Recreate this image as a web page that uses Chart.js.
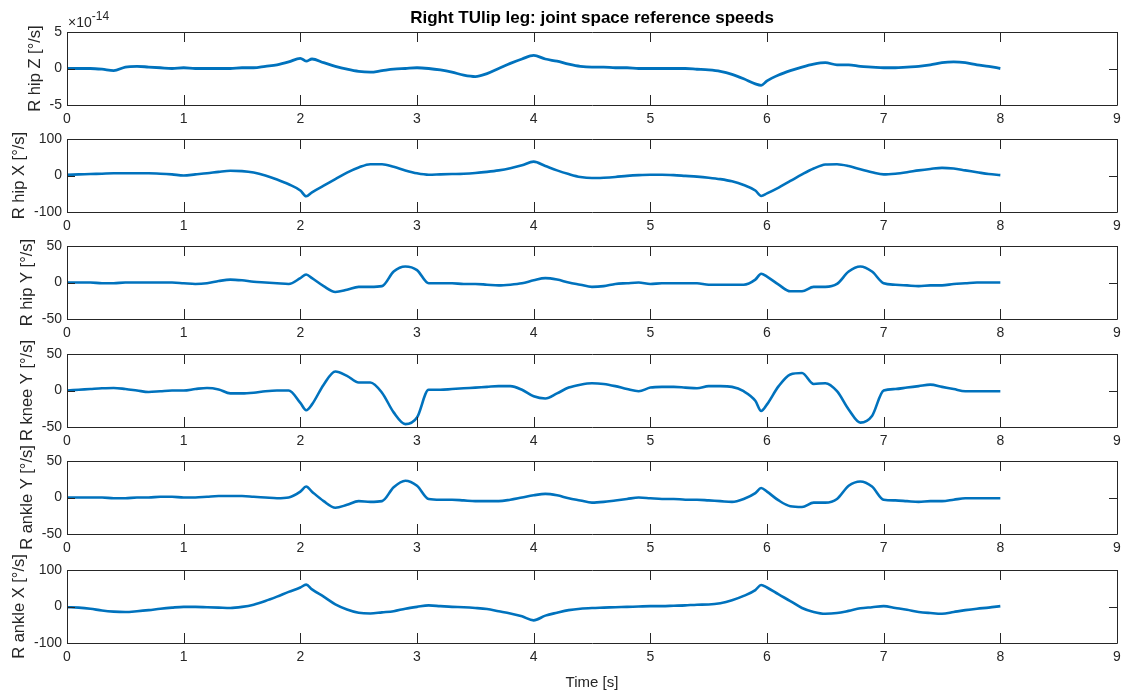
<!DOCTYPE html>
<html>
<head>
<meta charset="utf-8">
<script src="https://cdn.jsdelivr.net/npm/chart.js@4.4.1/dist/chart.umd.min.js"></script>
<style>
  body { margin: 0; background: #fff; }
  #wrap { position: relative; width: 1139px; height: 695px; }
  #wrap canvas { position: absolute; left: 0; }
</style>
</head>
<body>
<div id="wrap"></div>
<script>
// time samples [s]
var time = [0, 0.1, 0.2, 0.3, 0.4, 0.5, 0.6, 0.7, 0.8, 0.9, 1.0, 1.1, 1.2, 1.3, 1.4, 1.5, 1.6, 1.7, 1.8, 1.9, 2.0,
  2.05,
  2.1, 2.2, 2.3, 2.4, 2.5, 2.6, 2.7, 2.8, 2.9, 3.0, 3.1, 3.2, 3.3, 3.4, 3.5, 3.6, 3.7, 3.8, 3.9, 4.0,
  4.1, 4.2, 4.3, 4.4, 4.5, 4.6, 4.7, 4.8, 4.9, 5.0, 5.1, 5.2, 5.3, 5.4, 5.5, 5.6, 5.7, 5.8, 5.9,
  5.95,
  6.0, 6.1, 6.2, 6.3, 6.4, 6.5, 6.6, 6.7, 6.8, 6.9, 7.0, 7.1, 7.2, 7.3, 7.4, 7.5, 7.6, 7.7, 7.8, 7.9, 8.0];

// hip Z is in units of 1e-14 deg/s
var hipZ = [0, 0, 0, -0.1, -0.3, 0.2, 0.3, 0.2, 0.1, 0, 0.1, 0, 0, 0, 0, 0.1, 0.1, 0.3, 0.5, 0.9, 1.4,
  1.0,
  1.3, 0.8, 0.3, -0.1, -0.4, -0.5, -0.3, -0.1, 0, 0.1, 0, -0.2, -0.5, -0.9, -1.1, -0.7, 0, 0.7, 1.3, 1.8,
  1.3, 1.0, 0.6, 0.3, 0.2, 0.2, 0.1, 0.1, 0, 0, 0, 0, 0, -0.1, -0.2, -0.4, -0.8, -1.4, -2.1,
  -2.3,
  -1.7, -0.9, -0.3, 0.2, 0.6, 0.8, 0.5, 0.5, 0.3, 0.2, 0.1, 0.1, 0.2, 0.3, 0.5, 0.8, 0.9, 0.8, 0.5, 0.3, 0];

var hipX = [2, 3, 4, 5, 6, 6, 6, 6, 5, 3, 0, 3, 6, 10, 13, 12, 8, 0, -11, -24, -41,
  -57,
  -46, -28, -10, 8, 22, 31, 31, 24, 14, 6, 2, 3, 4, 5, 7, 10, 14, 20, 28, 38,
  26, 14, 4, -4, -7, -6, -4, -1, 1, 2, 2, 1, -1, -3, -6, -10, -16, -26, -41,
  -56,
  -49, -33, -15, 3, 19, 30, 31, 26, 17, 9, 3, 5, 9, 14, 18, 21, 19, 14, 9, 4, 1];

var hipY = [0, 0, 0, -1, -1, 0, 0, 0, 0, 0, -1, -2, -1, 2, 4, 3, 1, 0, -1, -2, 6,
  11,
  6, -5, -13, -10, -6, -6, -5, 15, 22, 17, -1, -1, -1, -2, -2, -3, -4, -3, -1, 3,
  6, 4, 0, -3, -6, -5, -2, -1, 0, -2, -1, -1, -1, -1, -3, -3, -3, -3, 4,
  12,
  8, -3, -12, -12, -6, -6, -2, 15, 22, 15, -1, -3, -4, -5, -4, -4, -2, -1, 0, 0, 0];

var kneeY = [0, 1, 2, 3, 3.5, 2, 0, -2, -1, 0, 0, 2, 3.5, 1.5, -4, -4, -3, -1, 0, 0, -17,
  -27,
  -19, 8, 26, 20, 11, 11, -3, -30, -46, -37, 1, 1, 2, 3, 4, 5, 6, 6, 1, -8,
  -11, -4, 4, 8, 10, 9, 6, 2, -1, 4, 5, 5, 4, 3, 6, 6, 5, -1, -14,
  -28,
  -19, 6, 22, 24, 9, 10, -1, -26, -44, -35, 0, 2, 4, 6, 8, 5, 2, -1, -1, -1, -1];

var ankleY = [0, 0, 0, 0, -1, -1, 0, 0, 1, 1, 0, 0, 1, 2, 2, 2, 1, 0, -1, 0, 8,
  15,
  8, -5, -14, -10, -5, -6, -5, 14, 23, 16, -2, -3, -3, -4, -5, -5, -5, -3, 0, 3,
  5, 3, -1, -4, -7, -6, -4, -2, 0, -1, -2, -2, -3, -3, -4, -5, -6, -2, 6,
  13,
  8, -4, -12, -13, -7, -7, -2, 16, 22, 15, -3, -4, -5, -6, -5, -5, -3, -1, -1, -1, -1];

var ankleX = [-2, -3, -6, -11, -14, -15, -13, -10, -6, -3, -1, -1, -2, -3, -4, -1, 5, 15, 27, 40, 52,
  60,
  47, 27, 6, -8, -17, -19, -16, -13, -6, -1, 3, 1, -1, -2, -4, -7, -13, -19, -27, -38,
  -25, -17, -10, -6, -4, -3, -2, -1, 0, 1, 1, 2, 3, 5, 5.5, 9, 17, 29, 45,
  59,
  52, 33, 15, -4, -15, -20, -18, -12, -5, -2, 1, -4, -9, -15, -18, -20, -15, -10, -6, -3, 1];

var yLabels = ['R hip Z [°/s]', 'R hip X [°/s]', 'R hip Y [°/s]', 'R knee Y [°/s]', 'R ankle Y [°/s]', 'R ankle X [°/s]'];
var yLimits = [5, 100, 50, 50, 50, 100];
var series = [hipZ, hipX, hipY, kneeY, ankleY, ankleX];
var xTicks = [0, 1, 2, 3, 4, 5, 6, 7, 8, 9];

var axisColor = '#262626';
var lineColor = '#0072BD';
var fontFamily = '"Liberation Sans", Arial, sans-serif';
var plotTops = [32, 139, 246, 354, 461, 570];
var plotH = 73;
// ylabel centre sits left of the widest tick label
var labelCentre = [36, 20, 28, 28, 28, 20];

// MATLAB-like box with inward tick marks on all four sides
var boxAxes = {
  id: 'boxAxes',
  afterDatasetsDraw: function (chart) {
    var ctx = chart.ctx, a = chart.chartArea;
    var xs = chart.scales.x, ys = chart.scales.y;
    ctx.save();
    ctx.strokeStyle = axisColor;
    ctx.lineWidth = 1;
    ctx.beginPath();
    ctx.rect(Math.round(a.left) + 0.5, Math.round(a.top) + 0.5, Math.round(a.right - a.left), Math.round(a.bottom - a.top));
    xs.ticks.forEach(function (t) {
      var px = Math.round(xs.getPixelForValue(t.value)) + 0.5;
      ctx.moveTo(px, a.bottom); ctx.lineTo(px, a.bottom - 10);
      ctx.moveTo(px, a.top); ctx.lineTo(px, a.top + 10);
    });
    ys.ticks.forEach(function (t) {
      var py = Math.round(ys.getPixelForValue(t.value)) + 0.5;
      ctx.moveTo(a.left, py); ctx.lineTo(a.left + 8, py);
      ctx.moveTo(a.right, py); ctx.lineTo(a.right - 8, py);
    });
    ctx.stroke();
    ctx.restore();
  }
};

// figure title and the exponent of the first axis
var headerText = {
  id: 'headerText',
  afterDraw: function (chart) {
    var ctx = chart.ctx, a = chart.chartArea;
    ctx.save();
    ctx.fillStyle = '#000';
    ctx.font = 'bold 17px ' + fontFamily;
    ctx.textAlign = 'center';
    ctx.textBaseline = 'middle';
    ctx.fillText('Right TUlip leg: joint space reference speeds', (a.left + a.right) / 2, 18);
    ctx.fillStyle = axisColor;
    ctx.textAlign = 'left';
    ctx.textBaseline = 'alphabetic';
    ctx.font = '14px ' + fontFamily;
    ctx.fillText('\u00d710', a.left + 1, 27);
    var w = ctx.measureText('\u00d710').width;
    ctx.font = '12px ' + fontFamily;
    ctx.fillText('-14', a.left + 1 + w, 20);
    ctx.restore();
  }
};

var wrap = document.getElementById('wrap');

series.forEach(function (vals, i) {
  var first = i === 0, last = i === series.length - 1;
  // extra room above each axis so the rotated ylabel is not cut off
  var padTop = first ? plotTops[0] : 30;
  var canvasTop = plotTops[i] - padTop;
  var xAxisH = last ? (695 - canvasTop - padTop - plotH) : 27;
  var canvas = document.createElement('canvas');
  canvas.width = 1139;
  canvas.height = padTop + plotH + xAxisH;
  canvas.style.top = canvasTop + 'px';
  wrap.appendChild(canvas);

  var tickFont = { family: fontFamily, size: 14 };
  var titleFont = { family: fontFamily, size: 16.5, lineHeight: 1.2 };
  new Chart(canvas, {
    type: 'line',
    data: {
      datasets: [{
        data: time.map(function (t, k) { return { x: t, y: vals[k] }; }),
        borderColor: lineColor,
        borderWidth: i === 0 ? 2.8 : 2.6,
        pointRadius: 0,
        cubicInterpolationMode: 'monotone',
        fill: false
      }]
    },
    options: {
      responsive: false,
      animation: false,
      devicePixelRatio: 1,
      layout: { padding: { top: padTop, right: 22, left: 0, bottom: 0 } },
      plugins: { legend: { display: false }, tooltip: { enabled: false } },
      scales: {
        x: {
          type: 'linear',
          min: 0, max: 9,
          grid: { display: false, drawTicks: false },
          border: { display: false },
          afterBuildTicks: function (s) { s.ticks = xTicks.map(function (v) { return { value: v }; }); },
          ticks: { color: axisColor, font: tickFont, padding: 6, maxRotation: 0, autoSkip: false },
          title: {
            display: last,
            text: 'Time [s]',
            color: axisColor,
            font: { family: fontFamily, size: 15 },
            padding: { top: 0, bottom: 3 }
          },
          afterFit: function (s) { s.height = xAxisH; }
        },
        y: {
          min: -yLimits[i], max: yLimits[i],
          grid: { display: false, drawTicks: false },
          border: { display: false },
          afterBuildTicks: function (s) {
            s.ticks = [-yLimits[i], 0, yLimits[i]].map(function (v) { return { value: v }; });
          },
          ticks: { color: axisColor, font: tickFont, padding: 5, autoSkip: false },
          title: {
            display: true,
            text: yLabels[i],
            color: axisColor,
            font: titleFont,
            padding: { top: labelCentre[i] - 10, bottom: 0 }
          },
          afterFit: function (s) { s.width = 67; }
        }
      }
    },
    plugins: first ? [boxAxes, headerText] : [boxAxes]
  });
});
</script>
</body>
</html>
